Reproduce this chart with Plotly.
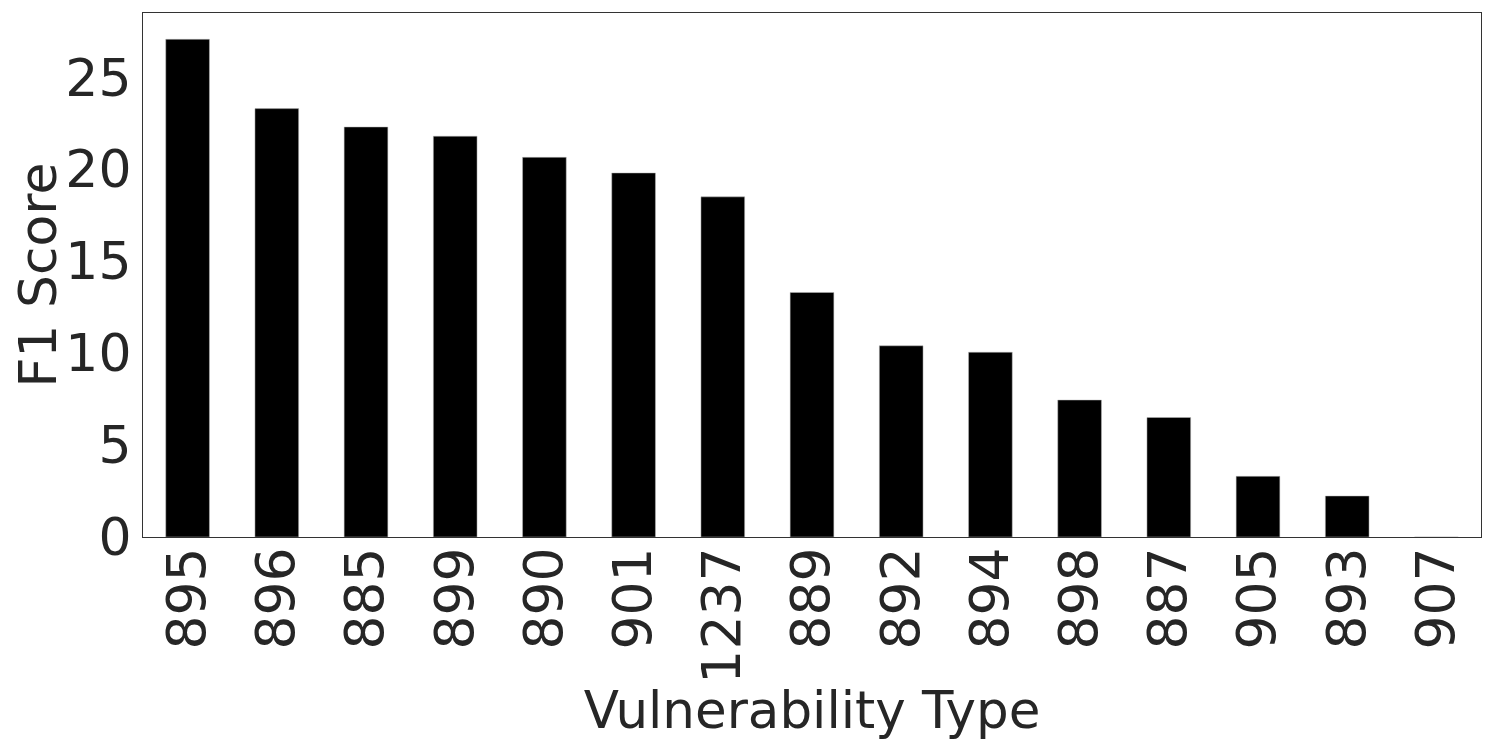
import plotly.graph_objects as go

categories = ["895", "896", "885", "899", "890", "901", "1237", "889", "892", "894", "898", "887", "905", "893", "907"]
f1_scores = [27.07, 23.3, 22.3, 21.8, 20.65, 19.8, 18.5, 13.3, 10.4, 10.05, 7.45, 6.5, 3.3, 2.23, 0.0]
y_ticks = [0, 5, 10, 15, 20, 25]

font_family = "DejaVu Sans"
text_color = "#262626"

fig = go.Figure(
    go.Bar(
        x=categories,
        y=f1_scores,
        marker=dict(color="black", line=dict(color="#bbbbbb", width=0.5)),
        width=0.49,
    )
)

fig.update_layout(
    width=1480,
    height=732,
    margin=dict(l=135, r=7, t=5, b=203),
    plot_bgcolor="white",
    paper_bgcolor="white",
    showlegend=False,
    font=dict(family=font_family, color=text_color, size=52),
)

fig.update_xaxes(
    type="category",
    range=[-0.5, 14.5],
    tickangle=-90,
    tickfont=dict(size=53.5, family=font_family, color=text_color),
    ticklabelstandoff=-12,
    title=dict(text="Vulnerability Type", font=dict(size=51.5, family=font_family, color=text_color), standoff=2),
    showline=True,
    linecolor="#333333",
    linewidth=1.2,
    mirror=True,
    ticks="",
    showgrid=False,
    zeroline=False,
)

fig.update_yaxes(
    range=[0, 28.5],
    tickvals=y_ticks,
    ticktext=[str(v) for v in y_ticks],
    tickfont=dict(size=52, family=font_family, color=text_color),
    title=dict(text="F1 Score", font=dict(size=52, family=font_family, color=text_color), standoff=8),
    showline=True,
    linecolor="#333333",
    linewidth=1.2,
    mirror=True,
    ticks="",
    showgrid=False,
    zeroline=False,
)

fig.write_html("out.html")
